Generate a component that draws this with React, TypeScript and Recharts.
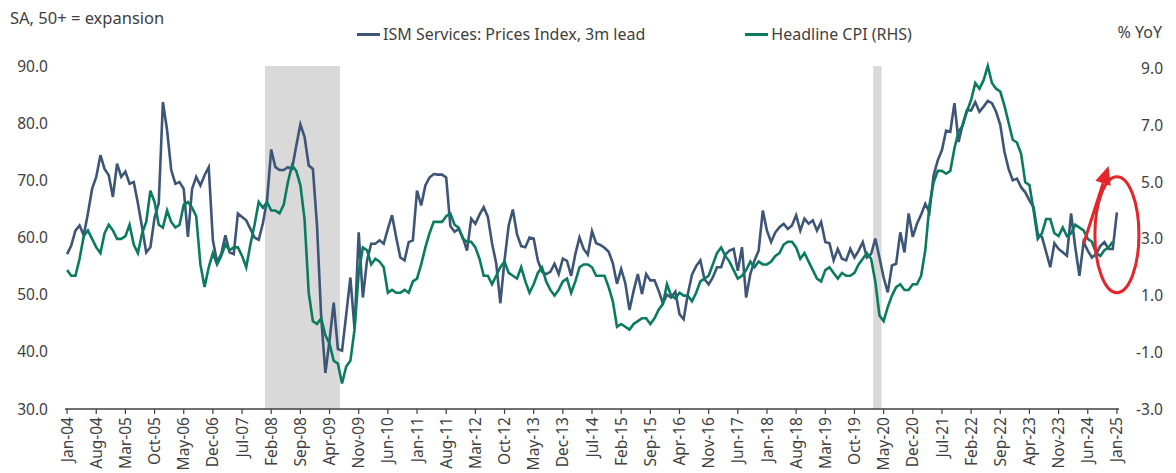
import React from "react";
import {
  LineChart, Line, XAxis, YAxis, ReferenceArea, ReferenceDot, ReferenceLine,
} from "recharts";

const MONTH_NAMES = ["Jan", "Feb", "Mar", "Apr", "May", "Jun", "Jul", "Aug", "Sep", "Oct", "Nov", "Dec"];
const START_YEAR = 2004;
const N_MONTHS = 253; // Jan-04 .. Jan-25

const months = Array.from({ length: N_MONTHS }, (_, i) =>
  `${MONTH_NAMES[i % 12]}-${String((START_YEAR + Math.floor(i / 12)) % 100).padStart(2, "0")}`
);

const tickLabels = [
  "Jan-04", "Aug-04", "Mar-05", "Oct-05", "May-06", "Dec-06", "Jul-07", "Feb-08", "Sep-08", "Apr-09",
  "Nov-09", "Jun-10", "Jan-11", "Aug-11", "Mar-12", "Oct-12", "May-13", "Dec-13", "Jul-14", "Feb-15",
  "Sep-15", "Apr-16", "Nov-16", "Jun-17", "Jan-18", "Aug-18", "Mar-19", "Oct-19", "May-20", "Dec-20",
  "Jul-21", "Feb-22", "Sep-22", "Apr-23", "Nov-23", "Jun-24", "Jan-25",
];

// ISM Services: Prices Index, plotted with a 3m lead (Jan-04 .. Jan-25)
const ismPrices = [
  57.1, 58.6, 61.2, 62.1, 60.4, 64.2, 68.5, 70.6, 74.4, 72.0, 70.9, 67.1,
  72.9, 70.6, 71.5, 69.4, 69.7, 66.0, 61.8, 57.4, 58.3, 63.5, 66.0, 83.7,
  78.8, 71.8, 69.4, 69.7, 68.5, 60.1, 68.5, 70.6, 69.1, 70.9, 72.3, 59.5,
  55.7, 57.1, 60.4, 57.4, 57.1, 64.2, 63.6, 63.0, 61.5, 60.0, 59.6, 62.5,
  66.5, 75.4, 72.3, 71.8, 71.8, 72.3, 72.0, 76.0, 79.8, 77.6, 72.6, 72.0,
  62.0, 46.0, 36.3, 42.0, 48.6, 40.5, 40.2, 46.5, 53.0, 44.0, 60.9, 49.5,
  56.0, 58.9, 58.9, 59.5, 58.9, 61.5, 63.9, 60.0, 56.5, 56.0, 59.2, 59.5,
  68.2, 65.6, 69.1, 70.5, 71.1, 71.0, 71.0, 70.5, 62.0, 61.0, 61.5, 60.0,
  57.7, 63.3, 62.4, 64.0, 65.3, 63.6, 59.0, 55.5, 48.5, 56.0, 62.1, 64.9,
  60.6, 58.5, 58.3, 60.0, 59.8, 56.0, 54.0, 53.6, 54.0, 55.4, 53.6, 56.3,
  55.9, 53.3, 57.1, 60.0, 58.0, 57.0, 61.1, 59.0, 58.7, 58.2, 57.5, 55.5,
  51.9, 54.5, 52.0, 47.3, 50.7, 53.6, 50.1, 53.6, 52.5, 52.5, 50.7, 48.5,
  50.0, 49.5, 50.5, 46.6, 45.7, 50.1, 53.5, 55.0, 56.0, 52.7, 51.8, 53.0,
  54.8, 54.8, 57.0, 57.7, 58.0, 54.2, 58.3, 49.5, 53.6, 56.0, 57.7, 64.7,
  61.2, 59.2, 60.9, 61.8, 62.4, 61.5, 62.1, 63.9, 61.2, 63.3, 62.4, 63.0,
  61.2, 62.7, 59.2, 59.0, 56.0, 58.0, 56.3, 56.0, 58.0, 56.5, 57.7, 59.2,
  56.5, 57.1, 59.8, 56.5, 53.0, 50.4, 55.1, 55.4, 60.9, 57.4, 64.2, 60.1,
  62.4, 64.0, 65.9, 64.4, 70.9, 73.5, 75.3, 78.7, 78.5, 83.5, 76.7, 79.9,
  82.3, 82.2, 83.7, 82.0, 82.9, 83.9, 83.5, 82.0, 79.7, 75.0, 72.0, 70.0,
  70.3, 68.8, 67.9, 66.5, 65.3, 60.6, 60.1, 57.5, 54.8, 59.0, 58.0, 57.4,
  56.8, 64.2, 58.3, 53.3, 59.2, 57.7, 56.5, 57.1, 58.5, 59.2, 58.0, 58.0,
  64.4,
];

// Headline CPI, % YoY (Jan-04 .. Dec-24)
const headlineCpi = [
  1.9, 1.7, 1.7, 2.3, 3.1, 3.3, 3.0, 2.7, 2.5, 3.2, 3.5, 3.3,
  3.0, 3.0, 3.1, 3.5, 2.8, 2.5, 3.2, 3.6, 4.7, 4.3, 3.5, 3.4,
  4.0, 3.6, 3.4, 3.5, 4.2, 4.3, 4.1, 3.8, 2.1, 1.3, 2.0, 2.5,
  2.1, 2.4, 2.8, 2.6, 2.7, 2.7, 2.4, 2.0, 2.8, 3.5, 4.3, 4.1,
  4.3, 4.0, 4.0, 3.9, 4.2, 5.0, 5.6, 5.4, 4.9, 3.7, 1.1, 0.1,
  0.0, 0.2, -0.4, -0.7, -1.3, -1.4, -2.1, -1.5, -1.3, -0.2, 1.8, 2.7,
  2.6, 2.1, 2.3, 2.2, 2.0, 1.1, 1.2, 1.1, 1.1, 1.2, 1.1, 1.5,
  1.6, 2.1, 2.7, 3.2, 3.6, 3.6, 3.6, 3.8, 3.9, 3.5, 3.4, 3.0,
  2.9, 2.9, 2.7, 2.3, 1.7, 1.7, 1.4, 1.7, 2.0, 2.2, 1.8, 1.7,
  1.6, 2.0, 1.5, 1.1, 1.4, 1.8, 2.0, 1.5, 1.2, 1.0, 1.2, 1.5,
  1.6, 1.1, 1.5, 2.0, 2.1, 2.1, 2.0, 1.7, 1.7, 1.7, 1.3, 0.8,
  -0.1, 0.0, -0.1, -0.2, 0.0, 0.1, 0.2, 0.2, 0.0, 0.2, 0.5, 0.7,
  1.4, 1.0, 0.9, 1.1, 1.0, 1.0, 0.8, 1.1, 1.5, 1.6, 1.7, 2.1,
  2.5, 2.7, 2.4, 2.2, 1.9, 1.6, 1.7, 1.9, 2.2, 2.0, 2.2, 2.1,
  2.1, 2.2, 2.4, 2.5, 2.8, 2.9, 2.9, 2.7, 2.3, 2.5, 2.2, 1.9,
  1.6, 1.5, 1.9, 2.0, 1.8, 1.6, 1.8, 1.7, 1.7, 1.8, 2.1, 2.3,
  2.5, 2.3, 1.5, 0.3, 0.1, 0.6, 1.0, 1.3, 1.4, 1.2, 1.2, 1.4,
  1.4, 1.7, 2.6, 4.2, 5.0, 5.4, 5.4, 5.3, 5.4, 6.2, 6.8, 7.0,
  7.5, 7.9, 8.5, 8.3, 8.6, 9.1, 8.5, 8.3, 8.2, 7.7, 7.1, 6.5,
  6.4, 6.0, 5.0, 4.9, 4.0, 3.0, 3.2, 3.7, 3.7, 3.2, 3.1, 3.4,
  3.1, 3.2, 3.5, 3.4, 3.3, 3.0, 2.9, 2.5, 2.4, 2.6, 2.7, 2.9,
];

const recessions = [
  { from: "Jan-08", to: "Jun-09" },
  { from: "Mar-20", to: "Apr-20" },
];

// red annotation (x in months, y on left axis)
const arrowFrom = { month: "May-24", value: 58.9 };
const arrowTo = { month: "Nov-24", value: 72.5 };
const circleAt = { month: "Jan-25", value: 60.5 };

const leftTicks = [30, 40, 50, 60, 70, 80, 90];
const rightTicks = [-3, -1, 1, 3, 5, 7, 9];

const data = months.map((m, i) => ({ i, month: m, ism: ismPrices[i], cpi: headlineCpi[i] }));
const idx = (m: string) => months.indexOf(m);

const BLUE = "#3d5577";
const GREEN = "#0b7b60";
const RED = "#e3262b";
const TEXT = "#404040";
const FONT = "'Noto Sans', sans-serif";

const XTick = (props: any) => {
  const { x, y, payload } = props;
  return (
    <text
      x={x}
      y={y}
      transform={`rotate(-90 ${x} ${y})`}
      textAnchor="end"
      dx={-1}
      dy="0.36em"
      fill={TEXT}
      fontSize={15.5}
      fontFamily={FONT}
    >
      {months[payload.value]}
    </text>
  );
};

const Arrow = (props: any) => {
  const { x1, y1, x2, y2 } = props;
  const dx = x2 - x1;
  const dy = y2 - y1;
  const len = Math.sqrt(dx * dx + dy * dy);
  const ux = dx / len;
  const uy = dy / len;
  const headLen = 18;
  const headW = 8;
  const bx = x2 - ux * headLen;
  const by = y2 - uy * headLen;
  return (
    <g>
      <line x1={x1} y1={y1} x2={bx} y2={by} stroke={RED} strokeWidth={3} />
      <polygon
        points={`${x2},${y2} ${bx - uy * headW},${by + ux * headW} ${bx + uy * headW},${by - ux * headW}`}
        fill={RED}
      />
    </g>
  );
};

const Ellipse = (props: any) => (
  <ellipse cx={props.cx} cy={props.cy} rx={22} ry={58} fill="none" stroke={RED} strokeWidth={3} />
);

export default function App() {
  return (
    <div style={{ position: "absolute", left: 0, top: 0, width: 1176, height: 473, overflow: "hidden", background: "#fff", fontFamily: FONT, color: TEXT }}>
      <div style={{ position: "absolute", left: 10, top: 7, fontSize: 16.5, lineHeight: "22px" }}>SA, 50+ = expansion</div>
      <div style={{ position: "absolute", right: 14, top: 21, fontSize: 16, lineHeight: "22px" }}>% YoY</div>
      <div style={{ position: "absolute", left: 357, top: 23, display: "flex", alignItems: "center", fontSize: 16, lineHeight: "22px", whiteSpace: "nowrap" }}>
        <span style={{ display: "inline-block", width: 23, height: 3, background: BLUE, marginRight: 3 }} />
        <span style={{ marginRight: 100 }}>ISM Services: Prices Index, 3m lead</span>
        <span style={{ display: "inline-block", width: 23, height: 3, background: GREEN, marginRight: 3 }} />
        <span>Headline CPI (RHS)</span>
      </div>
      <LineChart
        width={1176}
        height={473}
        data={data}
        margin={{ top: 66, right: 0, bottom: 0, left: 0 }}
        style={{ position: "absolute", left: 0, top: 0 }}
      >
        {recessions.map((r) => (
          <ReferenceArea
            key={r.from}
            x1={idx(r.from) - 0.5}
            x2={idx(r.to) + 0.5}
            yAxisId="l"
            fill="#d9d9d9"
            fillOpacity={1}
            stroke="none"
          />
        ))}
        <XAxis
          type="number"
          dataKey="i"
          domain={[-0.5, N_MONTHS - 0.5]}
          ticks={tickLabels.map(idx)}
          interval={0}
          height={64}
          tick={<XTick />}
          tickSize={5}
          tickMargin={2}
          axisLine={{ stroke: "#404040", strokeWidth: 1.5 }}
          tickLine={{ stroke: "#404040", strokeWidth: 1.2 }}
        />
        <YAxis
          yAxisId="l"
          domain={[30, 90]}
          ticks={leftTicks}
          interval={0}
          width={65}
          axisLine={false}
          tickLine={false}
          tickMargin={11}
          tickFormatter={(v: number) => v.toFixed(1)}
          tick={{ fill: TEXT, fontSize: 15.5, fontFamily: FONT }}
        />
        <YAxis
          yAxisId="r"
          orientation="right"
          domain={[-3, 9]}
          ticks={rightTicks}
          interval={0}
          width={57}
          axisLine={false}
          tickLine={false}
          tickMargin={38}
          tickFormatter={(v: number) => v.toFixed(1)}
          tick={{ fill: TEXT, fontSize: 15.5, fontFamily: FONT, textAnchor: "end" }}
        />
        <Line
          yAxisId="l"
          type="linear"
          dataKey="ism"
          stroke={BLUE}
          strokeWidth={2.6}
          dot={false}
          isAnimationActive={false}
        />
        <Line
          yAxisId="r"
          type="linear"
          dataKey="cpi"
          stroke={GREEN}
          strokeWidth={2.6}
          dot={false}
          isAnimationActive={false}
        />
        <ReferenceLine
          yAxisId="l"
          segment={[
            { x: idx(arrowFrom.month), y: arrowFrom.value },
            { x: idx(arrowTo.month), y: arrowTo.value },
          ]}
          ifOverflow="visible"
          shape={<Arrow />}
        />
        <ReferenceDot
          yAxisId="l"
          x={idx(circleAt.month)}
          y={circleAt.value}
          ifOverflow="visible"
          shape={<Ellipse />}
        />
      </LineChart>
    </div>
  );
}
